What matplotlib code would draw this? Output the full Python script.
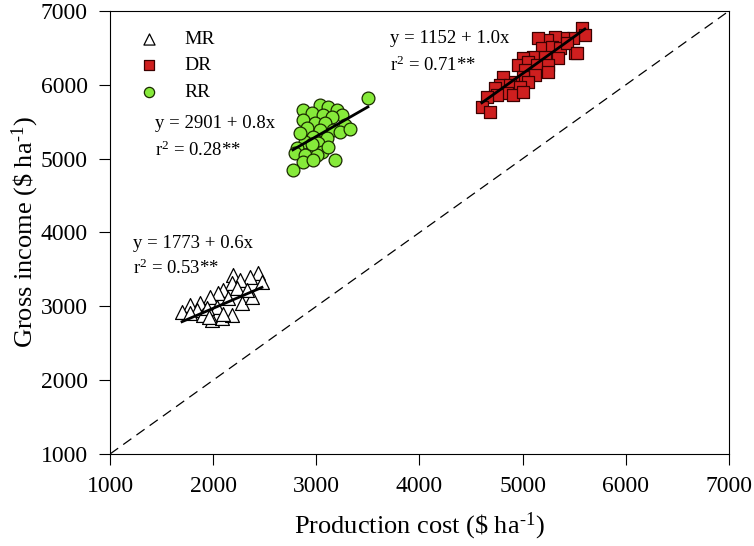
import numpy as np
import matplotlib
matplotlib.use("Agg")
import matplotlib.pyplot as plt

plt.rcParams['font.family'] = ['Liberation Serif', 'DejaVu Serif']
plt.rcParams['mathtext.fontset'] = 'custom'
plt.rcParams['mathtext.rm'] = 'Liberation Serif'
plt.rcParams['mathtext.it'] = 'Liberation Serif:italic'

# MR (triangles)
mr_x = [2434, 2357, 2192, 2260, 2182, 2473, 2095, 2230, 2046, 1969, 2143, 1872, 1775,
        1698, 1843, 1901, 1988, 2085, 2182, 2279, 2376, 2037, 1940, 1775, 2328, 2100, 1960]
mr_y = [3450, 3397, 3424, 3356, 3316, 3330, 3220, 3250, 3180, 3126, 3112, 3045, 3017,
        2923, 2950, 2882, 2815, 2842, 2882, 3045, 3126, 2990, 2977, 2909, 3220, 2900, 2850]

# DR (squares)
dr_x = [5574, 5603, 5487, 5390, 5312, 5234, 5147, 5186, 5283, 5360, 5506, 5099, 5215,
        5341, 5002, 4953, 5050, 5137, 5244, 5021, 5118, 5244, 5002, 4905, 5050, 4808,
        4779, 4876, 4973, 4731, 4847, 4905, 4750, 4653, 5002, 4605, 4682, 5428, 5530]
dr_y = [6768, 6673, 6633, 6633, 6647, 6606, 6633, 6498, 6511, 6498, 6430, 6376, 6376,
        6362, 6362, 6267, 6308, 6267, 6267, 6200, 6132, 6173, 6105, 6037, 6037, 6105,
        5997, 5997, 5970, 5956, 5888, 5861, 5861, 5834, 5902, 5699, 5631, 6565, 6430]

# RR (circles)
rr_x = [3500, 3035, 3112, 2870, 2957, 3064, 3200, 3248, 3151, 2870, 2986, 3083, 3277,
        2909, 3035, 3161, 3229, 2967, 3103, 2890, 3016, 2812, 2957, 3054, 2793, 2890,
        3006, 2870, 2967, 3180, 2773, 3326, 2841, 3112, 2960]
rr_y = [5820, 5726, 5699, 5658, 5617, 5590, 5658, 5590, 5563, 5523, 5482, 5482, 5455,
        5414, 5387, 5387, 5360, 5293, 5279, 5225, 5211, 5144, 5116, 5089, 5076, 5049,
        5049, 4954, 4981, 4981, 4846, 5400, 5347, 5157, 5200]

# regression: intercept, slope
mr_fit = [1773, 0.6]
dr_fit = [1152, 1.0]
rr_fit = [2901, 0.8]

fig = plt.figure(figsize=(7.54, 5.46), dpi=100)
ax = fig.add_axes([0.1459, 0.1685, 0.8209, 0.8114])

ax.plot([1000, 7000], [1000, 7000], color='black', linestyle=(0, (8, 5)), linewidth=0.9)

ax.scatter(mr_x, mr_y, marker='^', s=100, facecolor='white', edgecolor='black', linewidth=0.9, label='MR', zorder=3)
ax.scatter(dr_x, dr_y, marker='s', s=85, facecolor='#cf1f1f', edgecolor='#3a0000', linewidth=0.9, label='DR', zorder=3)
ax.scatter(rr_x, rr_y, marker='o', s=85, facecolor='#86ea3a', edgecolor='#1a2a00', linewidth=0.9, label='RR', zorder=3)

for xs, fit in [(mr_x, mr_fit), (dr_x, dr_fit), (rr_x, rr_fit)]:
    xx = np.array([min(xs), max(xs)])
    ax.plot(xx, fit[0] + fit[1] * xx, color='black', linewidth=2, zorder=4)

fs = 13.5
ax.text(1223, 3857, 'y = 1773 + 0.6x', fontsize=fs, va='center')
ax.text(1223, 3520, r'r$^2$ = 0.53**', fontsize=fs, va='center')
ax.text(1436, 5482, 'y = 2901 + 0.8x', fontsize=fs, va='center')
ax.text(1436, 5110, r'r$^2$ = 0.28**', fontsize=fs, va='center')
ax.text(3713, 6633, 'y = 1152 + 1.0x', fontsize=fs, va='center')
ax.text(3713, 6260, r'r$^2$ = 0.71**', fontsize=fs, va='center')

ax.set_xlim(1000, 7000)
ax.set_ylim(1000, 7000)
ax.set_xticks(range(1000, 7001, 1000))
ax.set_yticks(range(1000, 7001, 1000))
ax.tick_params(direction='out', length=8, labelsize=17, pad=8, top=False, right=False)
ax.set_xlabel('Production cost (\\$ ha$^{\\text{-}1}$)', fontsize=19, labelpad=10)
ax.set_ylabel('Gross income (\\$ ha$^{\\text{-}1}$)', fontsize=19, labelpad=0)

ax.legend(loc='upper left', frameon=False, fontsize=14, handletextpad=0.8,
          borderaxespad=0.6, labelspacing=0.45, markerscale=0.8)

fig.savefig('out.png', dpi=100)
